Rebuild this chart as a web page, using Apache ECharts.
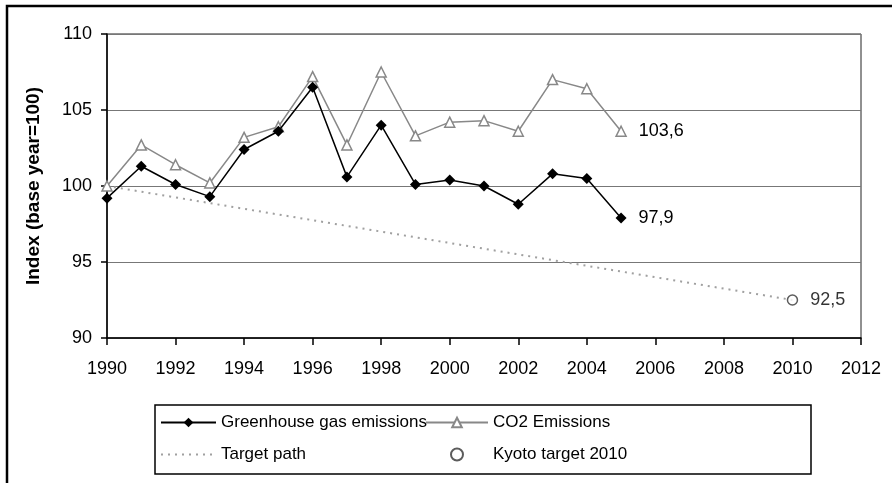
<!DOCTYPE html>
<html>
<head>
<meta charset="utf-8">
<script src="https://cdn.jsdelivr.net/npm/echarts@6/dist/echarts.min.js"></script>
<style>
  html, body { margin: 0; padding: 0; background: #fff; }
  #chart { width: 892px; height: 483px; }
</style>
</head>
<body>
<div id="chart"></div>
<script>
const years = [1990, 1991, 1992, 1993, 1994, 1995, 1996, 1997, 1998, 1999, 2000, 2001, 2002, 2003, 2004, 2005]
const ghgValues = [99.2, 101.3, 100.1, 99.3, 102.4, 103.6, 106.5, 100.6, 104.0, 100.1, 100.4, 100.0, 98.8, 100.8, 100.5, 97.9]
const co2Values = [100.0, 102.7, 101.4, 100.2, 103.2, 103.9, 107.2, 102.7, 107.5, 103.3, 104.2, 104.3, 103.6, 107.0, 106.4, 103.6]
const targetYears = [1990, 2010]
const targetValues = [100.0, 92.5]
const kyotoYear = 2010
const kyotoValue = 92.5
const xTicks = [1990, 1992, 1994, 1996, 1998, 2000, 2002, 2004, 2006, 2008, 2010, 2012]
const yTicks = [90, 95, 100, 105, 110]

const font = 'Liberation Sans, Arial, sans-serif'
const comma = v => String(v.toFixed(1)).replace('.', ',')

// label only the last point of a series
const withEndLabel = (xs, ys) => xs.map((x, i) => {
  const item = { value: [x, ys[i]] }
  if (i === xs.length - 1) {
    item.label = {
      show: true, position: 'right', distance: 12,
      formatter: p => comma(p.value[1]),
      color: '#000', fontSize: 18, fontFamily: font
    }
  }
  return item
})

const legendText = { fontSize: 17, color: '#000', fontFamily: font }

const chart = echarts.init(document.getElementById('chart'))
chart.setOption({
  animation: false,
  backgroundColor: '#fff',
  textStyle: { fontFamily: font },
  graphic: [
    { type: 'rect', shape: { x: 7, y: 6, width: 900, height: 500 }, style: { fill: 'none', stroke: '#000', lineWidth: 2.5 }, silent: true },
    { type: 'rect', shape: { x: 155, y: 405, width: 656, height: 69 }, style: { fill: 'none', stroke: '#000', lineWidth: 1.5 }, silent: true }
  ],
  grid: { left: 107, right: 31, top: 34, bottom: 145, show: true, borderColor: '#222', borderWidth: 1 },
  legend: [
    {
      data: ['Greenhouse gas emissions', { name: 'Target path', itemStyle: { opacity: 0 } }],
      orient: 'vertical', left: 155, top: 409,
      itemWidth: 55, itemHeight: 12, itemGap: 15,
      textStyle: legendText
    },
    {
      data: ['CO2 Emissions', 'Kyoto target 2010'],
      orient: 'vertical', left: 420, top: 409,
      itemWidth: 62, itemHeight: 12, itemGap: 15,
      textStyle: legendText
    }
  ],
  xAxis: {
    type: 'value', min: xTicks[0], max: xTicks[xTicks.length - 1], interval: 2,
    axisLine: { lineStyle: { color: '#000', width: 1.5 } },
    axisTick: { show: true, length: 7, lineStyle: { color: '#000', width: 1.5 } },
    axisLabel: { formatter: v => String(v), color: '#000', fontSize: 18, margin: 22 },
    splitLine: { show: false }
  },
  yAxis: {
    type: 'value', min: yTicks[0], max: yTicks[yTicks.length - 1], interval: 5,
    name: 'Index (base year=100)', nameLocation: 'middle', nameGap: 64,
    nameTextStyle: { fontWeight: 'bold', fontSize: 19, color: '#000' },
    axisLine: { show: true, lineStyle: { color: '#000', width: 1.5 } },
    axisTick: { show: true, length: 6, lineStyle: { color: '#000', width: 1.5 } },
    axisLabel: { color: '#000', fontSize: 18, margin: 15 },
    splitLine: { show: true, lineStyle: { color: '#777', width: 1 } }
  },
  series: [
    {
      name: 'Target path', type: 'line', z: 1,
      data: targetYears.map((x, i) => [x, targetValues[i]]),
      showSymbol: false, symbol: 'none',
      lineStyle: { color: '#a0a0a0', width: 2, type: [2, 5] },
      itemStyle: { color: '#a0a0a0' }
    },
    {
      name: 'CO2 Emissions', type: 'line', z: 2,
      data: withEndLabel(years, co2Values),
      symbol: 'triangle', symbolSize: 10,
      lineStyle: { color: '#888', width: 1.5 },
      itemStyle: { color: '#fff', borderColor: '#888', borderWidth: 1.5 }
    },
    {
      name: 'Greenhouse gas emissions', type: 'line', z: 3,
      data: withEndLabel(years, ghgValues),
      symbol: 'diamond', symbolSize: 11,
      lineStyle: { color: '#000', width: 1.5 },
      itemStyle: { color: '#000' }
    },
    {
      name: 'Kyoto target 2010', type: 'scatter', z: 4,
      data: withEndLabel([kyotoYear], [kyotoValue]),
      symbol: 'circle', symbolSize: 10,
      itemStyle: { color: '#fff', borderColor: '#333', borderWidth: 1.5 }
    }
  ]
})
</script>
</body>
</html>
